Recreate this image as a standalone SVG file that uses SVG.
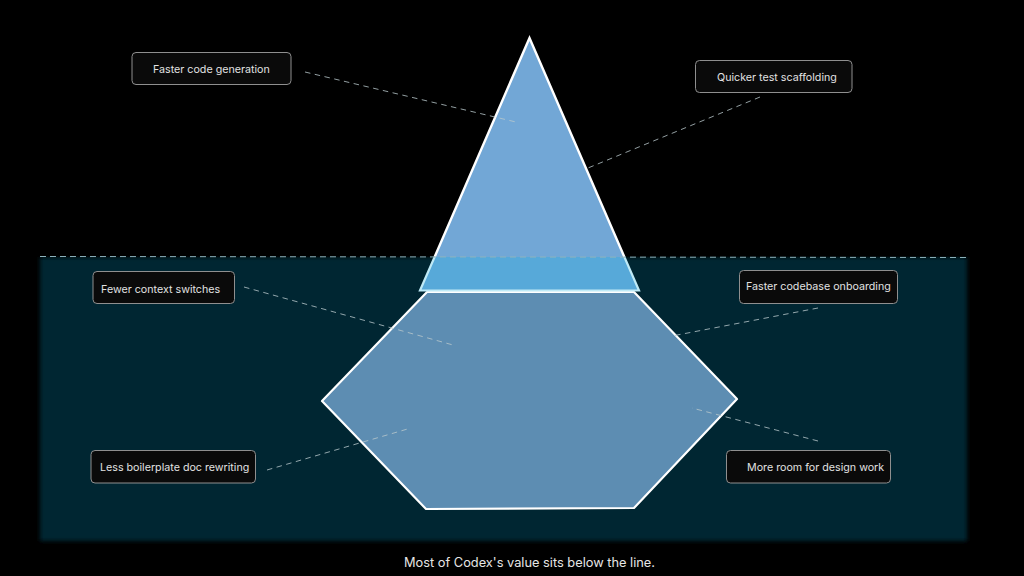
<svg xmlns="http://www.w3.org/2000/svg" width="1024" height="576" viewBox="0 0 1024 576">
<style>
.box{fill:#0a0a0a;stroke:#8f8f8f;stroke-width:1}
.lbl{font-family:Inter,"Liberation Sans",sans-serif;font-size:10.7px;fill:#e2e2e2}
.lead{fill:none;stroke:#b9c8cc;stroke-width:.8;stroke-dasharray:5.500 4.500}
</style>
<defs><filter id="soft" x="-3%" y="-3%" width="106%" height="106%"><feGaussianBlur stdDeviation="2.2"/></filter></defs>
<rect width="1024" height="576" fill="#000"/>
<rect id="water" x="40" y="257" width="927" height="284" fill="#012730" filter="url(#soft)"/>
<rect x="38" y="240" width="935" height="16.500" fill="#000"/>
<g id="iceberg-below">
<polygon points="427,292 634,292 737,399 634,508 426,509 322,401" fill="#5d8db2" stroke="#fff" stroke-width="2.2" stroke-linejoin="round"/>
</g>
<g id="iceberg-above">
<polygon points="529.500,38 624.400,257 434.600,257" fill="#72a7d6"/>
<polygon points="434.600,257 624.400,257 639,291 420,291" fill="#57a9d9"/>
<polyline points="434.600,257 420,290.500 639,290.500 624.400,257" fill="none" stroke="#bfeaf6" stroke-width="2.2"/>
<polyline points="434.600,257 529.500,38 624.400,257" fill="none" stroke="#fff" stroke-width="2.4"/>
</g>
<g id="connectors">
<line x1="40" y1="256.500" x2="970" y2="257.500" fill="none" stroke="#8fb4bd" stroke-width="1" stroke-dasharray="6 4"/>
<line class="lead" x1="305" y1="72" x2="516" y2="122"/>
<line class="lead" x1="760" y1="97" x2="588" y2="168"/>
<line class="lead" x1="244" y1="287" x2="453" y2="345"/>
<line class="lead" x1="818" y1="308" x2="672" y2="336"/>
<line class="lead" x1="267" y1="470" x2="411" y2="428"/>
<line class="lead" x1="818" y1="441" x2="692" y2="408"/>
</g>
<g id="n1"><rect class="box" x="132" y="52.500" width="159" height="32" rx="4"/><text class="lbl" x="153" y="72.500">Faster code generation</text></g>
<g id="n2"><rect class="box" x="695.500" y="60.500" width="156.500" height="32" rx="4"/><text class="lbl" x="717" y="80.500">Quicker test scaffolding</text></g>
<g id="n3"><rect class="box" x="93" y="271.500" width="141.500" height="32" rx="4"/><text class="lbl" x="101" y="292.500">Fewer context switches</text></g>
<g id="n4"><rect class="box" x="739.500" y="270.500" width="158" height="33" rx="4"/><text class="lbl" x="746" y="289.500">Faster codebase onboarding</text></g>
<g id="n5"><rect class="box" x="91" y="450.500" width="164.500" height="32.500" rx="4"/><text class="lbl" x="100" y="470.500">Less boilerplate doc rewriting</text></g>
<g id="n6"><rect class="box" x="726.500" y="450.500" width="164" height="32.500" rx="4"/><text class="lbl" x="747" y="470.500">More room for design work</text></g>
<text id="caption" x="529.500" y="567" text-anchor="middle" font-family="Inter,'Liberation Sans',sans-serif" font-size="12.800" fill="#e6e6e6">Most of Codex's value sits below the line.</text>
</svg>
